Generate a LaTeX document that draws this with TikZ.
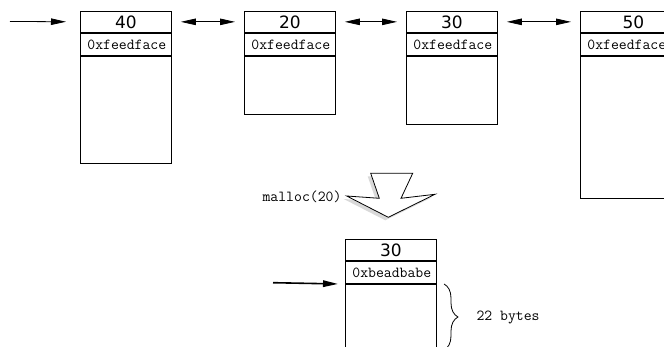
\documentclass[tikz,border=0pt]{standalone}
\usepackage{fontspec}
\newfontfamily\numfont{DejaVu Sans}
\usetikzlibrary{positioning,arrows.meta,decorations.pathreplacing}

\tikzset{
  hdr/.style={draw, line width=0.8pt, minimum width=91pt, minimum height=21.5pt, inner sep=0pt,
    font=\numfont\fontsize{17}{17}\selectfont, anchor=north west},
  addr/.style={draw, line width=0.8pt, minimum width=91pt, minimum height=22pt, inner sep=0pt,
    text width=77pt, align=left, font=\ttfamily\fontsize{15.3}{16}\selectfont},
  body/.style={draw, line width=0.8pt, minimum width=91pt, inner sep=0pt},
  link/.style={{Triangle[length=15pt,width=6.5pt]}-{Triangle[length=15pt,width=6.5pt]},
    line width=0.8pt, shorten <=9pt, shorten >=9pt},
  entry/.style={-{Triangle[length=15pt,width=6.5pt]}, line width=0.8pt},
}

\begin{document}
\begin{tikzpicture}[x=1pt, y=-1pt]
            \clip (0,0) rectangle (664,347);
            \fill[white] (0,0) rectangle (664,347);

            % Free list
            \node[hdr] (h1) at (80,10.7) {40};
            \node[addr, below=0 of h1] (a1) {0xfeedface};
            \node[body, below=0 of a1, minimum height=107pt] (b1) {};

            \node[hdr] (h2) at (244,10.7) {20};
            \node[addr, below=0 of h2] (a2) {0xfeedface};
            \node[body, below=0 of a2, minimum height=58pt] (b2) {};

            \node[hdr] (h3) at (406,10.7) {30};
            \node[addr, below=0 of h3] (a3) {0xfeedface};
            \node[body, below=0 of a3, minimum height=68pt] (b3) {};

            \node[hdr, minimum width=106pt] (h4) at (580,10.7) {50};
            \node[addr, below=0 of h4, minimum width=106pt, text width=92pt] (a4) {0xfeedface};
            \node[body, below=0 of a4, minimum width=106pt, minimum height=142pt] (b4) {};

            % Links
            \coordinate (in1) at (10,21.45);
            \draw[entry, shorten >=14pt] (in1) -- (h1.west);
            \draw[link] (h1.east) -- (h2.west);
            \draw[link] (h2.east) -- (h3.west);
            \draw[link] (h3.east) -- (h4.west);

            % malloc
            \fill[black!15, xshift=-3pt, yshift=-3pt] (370.7,173.3) -- (412.7,173.3) -- (401,198.3) -- (435,194.3)
                -- (388.3,217.3) -- (346.7,196) -- (379.3,198.3) -- cycle;
            \draw[fill=white, line width=0.8pt] (370.7,173.3) -- (412.7,173.3) -- (401,198.3) -- (435,194.3)
                -- (388.3,217.3) -- (346.7,196) -- (379.3,198.3) -- cycle;
            \node[font=\ttfamily\fontsize{15.3}{16}\selectfont] (mlc) at (302,197) {malloc(20)};

            % Allocated block
            \node[hdr] (h5) at (345,239) {30};
            \node[addr, below=0 of h5] (a5) {0xbeadbabe};
            \node[body, below=0 of a5, minimum height=80pt] (b5) {};

            \coordinate (in2) at (273,282.7);
            \draw[entry, line width=1.6pt, shorten >=7pt] (in2) -- (a5.south west);

            \coordinate (bt) at (444,284);
            \coordinate (bb) at (444,350);
            \draw[line width=0.8pt, decorate, decoration={brace, amplitude=14pt}] (bt) -- (bb);
            \node[font=\ttfamily\fontsize{15.3}{16}\selectfont, anchor=west] (sz) at (473,317) {22 bytes};

        \end{tikzpicture}
\end{document}
